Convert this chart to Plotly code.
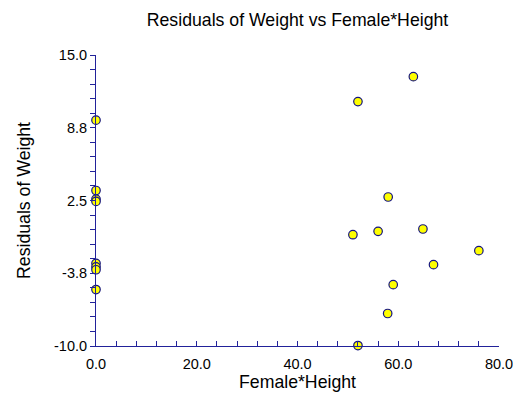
import plotly.graph_objects as go

# Data
female_height = [0, 0, 0, 0, 0, 0, 0, 0,
                 63.0, 52.0, 58.0, 51.0, 56.0, 64.9, 76.0, 67.0, 59.0, 57.9, 52.0]
residuals = [9.4, 3.36, 2.62, 2.42, -2.9, -3.2, -3.45, -5.15,
             13.14, 11.0, 2.8, -0.44, -0.15, 0.05, -1.81, -3.01, -4.73, -7.21, -9.96]

y_tickvals = [-10, -3.75, 2.5, 8.75, 15]
y_ticktext = ["-10.0", "-3.8", "2.5", "8.8", "15.0"]
x_tickvals = [0, 20, 40, 60, 80]
x_ticktext = ["0.0", "20.0", "40.0", "60.0", "80.0"]

axis_color = "#22229a"
font = "Liberation Sans, Arial, sans-serif"
OFF = 8  # page body margin

fig = go.Figure()
fig.add_trace(go.Scatter(
    x=female_height, y=residuals, mode="markers",
    marker=dict(size=8.5, color="#ffff00", line=dict(color="#14147f", width=1.2)),
    cliponaxis=False, showlegend=False,
))

fig.update_layout(
    width=521, height=400,
    margin=dict(l=96 - OFF, r=22 + OFF, t=55 - OFF, b=53.5 + OFF, autoexpand=False),
    paper_bgcolor="white", plot_bgcolor="white",
    font=dict(family=font, color="#000000", size=14.5),
    title=dict(text="Residuals of Weight vs Female*Height", x=0.5, xref="paper",
               y=1 - (20 - OFF) / 400, yref="container", yanchor="middle", xanchor="center",
               font=dict(size=17.7, family=font, color="#000000")),
)

fig.update_xaxes(
    range=[0, 80], showgrid=False, zeroline=False,
    showline=True, linecolor=axis_color, linewidth=1,
    tickmode="array", tickvals=x_tickvals, ticktext=x_ticktext,
    ticks="inside", ticklen=5, tickcolor=axis_color, tickwidth=1,
    ticklabelstandoff=5,
    minor=dict(tickmode="linear", tick0=0, dtick=4, ticks="inside", ticklen=5,
               tickcolor=axis_color, showgrid=False),
    tickfont=dict(size=14.5, family=font),
    title=dict(text="Female*Height", font=dict(size=17.7, family=font), standoff=4),
    automargin=False,
)
fig.update_yaxes(
    range=[-10, 15], showgrid=False, zeroline=False,
    showline=True, linecolor=axis_color, linewidth=1,
    tickmode="array", tickvals=y_tickvals, ticktext=y_ticktext,
    ticks="outside", ticklen=5, tickcolor=axis_color, tickwidth=1,
    minor=dict(tickmode="linear", tick0=-10, dtick=1.25, ticks="outside", ticklen=5,
               tickcolor=axis_color, showgrid=False),
    tickfont=dict(size=14.5, family=font),
    title=dict(text="Residuals of Weight", font=dict(size=17.7, family=font), standoff=18),
    automargin=False,
)

fig.write_html("out.html")
